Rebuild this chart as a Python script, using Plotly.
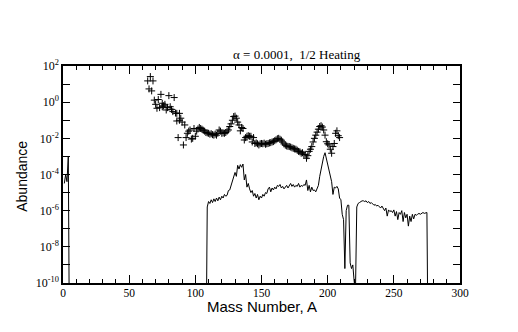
"""Abundance vs mass number, alpha = 0.0001, 1/2 heating."""
import plotly.graph_objects as go

# scattered "+" points (mass number, abundance)
plus_a = [64, 65, 66, 67, 68, 69, 70, 71, 72, 73, 74, 75, 75, 76, 77, 78, 79, 80,
          81, 82, 83, 84, 85, 86, 86, 87, 88, 88, 89, 90, 91, 92, 93, 94, 95, 96,
          97, 98, 99, 100, 101, 102, 103, 104, 105, 106, 107, 108, 109, 110, 111,
          112, 113, 114, 115, 116, 117, 118, 119, 120, 121, 122, 123, 124, 125,
          126, 127, 128, 129, 130, 131, 132, 133, 134, 135, 136, 137, 138, 139,
          140, 141, 142, 143, 144, 145, 146, 147, 148, 149, 150, 151, 152, 153,
          154, 155, 156, 157, 158, 159, 160, 161, 162, 163, 164, 165, 166, 167,
          168, 169, 170, 171, 172, 173, 174, 175, 176, 177, 178, 179, 180, 181,
          182, 183, 184, 185, 186, 187, 188, 189, 190, 191, 192, 193, 194, 195,
          196, 197, 198, 199, 200, 201, 202, 203, 204, 205, 206, 207, 208, 209]
plus_y = [1.5e1, 5.4e0, 2.6e1, 4.2e0, 1.5e1, 1.3e0, 7.6e-1, 4.6e-1, 1.4e0, 5.0e-1,
          2.7e0, 8.7e-1, 5.6e-1, 6.3e-1, 7.6e-1, 3.7e-1, 5.0e-1, 2.3e0, 5.6e-1,
          4.0e-1, 3.0e-1, 1.8e0, 2.5e-1, 2.4e-1, 9.1e-2, 1.1e-2, 2.4e-1, 1.0e-1,
          1.3e-1, 7.9e-2, 4.3e-3, 5.5e-2, 1.1e-2, 1.9e-2, 2.5e-2, 2.9e-2, 9.1e-3,
          1.0e-2, 3.5e-2, 1.3e-2, 2.5e-2, 3.3e-2, 4.0e-2, 3.5e-2, 3.2e-2, 2.8e-2,
          2.5e-2, 2.1e-2, 2.0e-2, 1.9e-2, 1.7e-2, 1.8e-2, 1.6e-2, 1.5e-2, 1.7e-2,
          1.5e-2, 1.9e-2, 2.9e-2, 2.5e-2, 1.9e-2, 2.0e-2, 1.9e-2, 2.1e-2, 2.5e-2,
          2.9e-2, 4.5e-2, 6.3e-2, 1.0e-1, 1.6e-1, 1.7e-1, 1.3e-1, 7.9e-2, 5.5e-2,
          2.6e-2, 4.0e-2, 3.5e-2, 8.1e-3, 1.1e-2, 1.3e-2, 1.4e-2, 1.3e-2, 1.3e-2,
          6.3e-3, 1.1e-2, 5.2e-3, 5.6e-3, 5.0e-3, 4.3e-3, 5.0e-3, 5.2e-3, 5.0e-3,
          5.4e-3, 4.7e-3, 5.0e-3, 5.2e-3, 5.6e-3, 5.8e-3, 6.3e-3, 6.6e-3, 7.4e-3,
          8.3e-3, 9.5e-3, 1.0e-2, 8.9e-3, 7.9e-3, 6.3e-3, 4.9e-3, 4.2e-3, 3.8e-3,
          3.6e-3, 3.5e-3, 3.3e-3, 3.0e-3, 2.8e-3, 2.6e-3, 2.5e-3, 2.2e-3, 1.9e-3,
          1.8e-3, 1.5e-3, 1.6e-3, 1.3e-3, 1.3e-3, 7.9e-4, 1.1e-3, 1.9e-3, 2.5e-3,
          3.5e-3, 6.3e-3, 1.0e-2, 1.5e-2, 2.2e-2, 3.2e-2, 4.5e-2, 5.0e-2, 4.2e-2,
          2.9e-2, 1.5e-2, 6.5e-3, 5.0e-3, 4.3e-3, 2.5e-3, 1.5e-3, 3.5e-3, 5.2e-3,
          1.9e-2, 2.6e-2, 1.4e-2, 1.1e-2]

# line: mass number, abundance (None breaks the line)
line_a = [1, 2, 3, 4, 5, None,
          108, 109, 110, 111, 112, 113, 114, 115, 116, 117, 118, 119, 120, 121,
          122, 123, 124, 125, 126, 127, 128, 129, 130, 131, 132, 133, 134, 135,
          136, 137, 138, 139, 140, 141, 142, 143, 144, 145, 146, 147, 148, 149,
          150, 151, 152, 153, 154, 155, 156, 157, 158, 159, 160, 161, 162, 163,
          164, 165, 166, 167, 168, 169, 170, 171, 172, 173, 174, 175, 176, 177,
          178, 179, 180, 181, 182, 183, 184, 185, 186, 187, 188, 189, 190, 191,
          192, 193, 194, 195, 196, 197, 198, 199, 200, 201, 202, 203, 204, 205,
          206, 207, 208, 209, 210, 211, 212, 213, 214, 215, 216, 217, 218, 219,
          220, 221, 222, 223, 224, 225, 226, 227, 228, 229, 230, 231, 232, 233,
          234, 235, 236, 237, 238, 239, 240, 241, 242, 243, 244, 245, 246, 247,
          248, 249, 250, 251, 252, 253, 254, 255, 256, 257, 258, 259, 260, 261,
          262, 263, 264, 265, 266, 267, 268, 269, 270, 271, 272, 273, 274, 275,
          276]
line_y = [3.2e-5, 1.0e-4, 4.0e-5, 1.0e-3, 1e-15, None,
          1e-15, 1.6e-6, 3.2e-6, 2.5e-6, 4.0e-6, 2.8e-6, 4.5e-6, 3.2e-6, 5.0e-6,
          3.5e-6, 5.6e-6, 4.0e-6, 6.3e-6, 5.0e-6, 7.9e-6, 6.3e-6, 7.1e-6, 1.3e-5,
          1.4e-5, 2.5e-5, 3.2e-5, 6.3e-5, 1.3e-4, 7.9e-5, 3.2e-4, 2.0e-4, 3.5e-4,
          2.5e-4, 3.8e-4, 5.0e-5, 1.0e-4, 2.0e-5, 3.2e-5, 1.6e-5, 1.0e-5, 1.3e-5,
          6.3e-6, 8.9e-6, 5.0e-6, 7.9e-6, 4.0e-6, 6.3e-6, 5.0e-6, 7.9e-6, 6.3e-6,
          1.0e-5, 8.9e-6, 1.6e-5, 2.0e-5, 1.1e-5, 1.8e-5, 1.4e-5, 2.0e-5, 1.6e-5,
          2.5e-5, 2.2e-5, 2.8e-5, 1.8e-5, 2.2e-5, 1.6e-5, 2.0e-5, 2.5e-5, 1.8e-5,
          2.5e-5, 3.2e-5, 2.2e-5, 2.8e-5, 2.0e-5, 2.5e-5, 2.2e-5, 3.2e-5, 2.0e-5,
          2.5e-5, 2.2e-5, 2.8e-5, 2.5e-5, 5.0e-5, 1.3e-5, 2.5e-5, 1.1e-5, 2.0e-5,
          1.3e-5, 1.4e-5, 1.1e-5, 1.6e-5, 2.5e-5, 7.9e-5, 2.0e-4, 5.0e-4, 1.0e-3,
          1.6e-3, 7.9e-4, 3.2e-4, 1.3e-4, 6.3e-5, 4.0e-5, 7.9e-6, 2.0e-5, 1.8e-5,
          2.2e-5, 1.6e-5, 5.0e-6, 4.0e-6, 6.3e-7, 3.2e-7, 6.3e-10, 1.0e-6, 2.0e-6,
          2.0e-6, 1.3e-9, 6.3e-10, 1.0e-9, 1.3e-10, 3.2e-11, 1.6e-6, 2.5e-6,
          2.8e-6, 3.2e-6, 3.5e-6, 3.5e-6, 3.2e-6, 3.5e-6, 2.8e-6, 3.2e-6, 2.5e-6,
          2.8e-6, 2.2e-6, 2.0e-6, 2.2e-6, 1.8e-6, 2.0e-6, 1.6e-6, 1.4e-6, 1.8e-6,
          1.3e-6, 1.0e-6, 1.4e-6, 5.0e-7, 1.1e-6, 8.9e-7, 1.0e-6, 7.9e-7, 1.1e-6,
          5.0e-7, 8.9e-7, 3.2e-7, 7.9e-7, 6.3e-7, 1.0e-6, 2.5e-7, 7.9e-7, 4.0e-7,
          6.3e-7, 1.4e-7, 5.0e-7, 2.5e-7, 6.3e-7, 3.5e-7, 6.3e-7, 5.6e-7, 6.3e-7,
          7.1e-7, 6.3e-7, 7.1e-7, 7.9e-7, 7.1e-7, 7.9e-7, 7.9e-7, 1e-15]

x_ticks = [0, 50, 100, 150, 200, 250, 300]
y_ticks = [1e-10, 1e-8, 1e-6, 1e-4, 1e-2, 1e0, 1e2]
y_labels = ["10<sup>-10</sup>", "10<sup>-8</sup>", "10<sup>-6</sup>", "10<sup>-4</sup>",
            "10<sup>-2</sup>", "10<sup>0</sup>", "10<sup>2</sup>"]

serif = "Liberation Serif"
sans = "Liberation Sans"

fig = go.Figure()
fig.add_trace(go.Scatter(
    x=line_a, y=line_y, mode="lines", connectgaps=False,
    line=dict(color="black", width=1), showlegend=False,
))
fig.add_trace(go.Scatter(
    x=plus_a, y=plus_y, mode="markers", showlegend=False,
    marker=dict(symbol="cross-thin", size=5, color="black",
                line=dict(color="black", width=1)),
))

fig.update_xaxes(
    range=[0, 300], tickvals=x_ticks, ticks="inside", ticklen=8, tickwidth=1,
    minor=dict(dtick=10, ticks="inside", ticklen=4, tickcolor="black"),
    showline=True, linecolor="black", linewidth=1.5, mirror="ticks",
    showgrid=False, zeroline=False, tickcolor="black", ticklabelstandoff=-2,
    tickfont=dict(family=serif, size=11.5, color="black"),
)
fig.update_yaxes(
    type="log", range=[-10, 2], tickvals=y_ticks, ticktext=y_labels,
    ticks="inside", ticklen=7, tickwidth=1, tickcolor="black",
    minor=dict(tickvals=[1e-9, 1e-7, 1e-5, 1e-3, 1e-1, 1e1], ticks="inside",
               ticklen=7, tickcolor="black"),
    showline=True, linecolor="black", linewidth=1.5, mirror="ticks",
    showgrid=False, zeroline=False,
    tickfont=dict(family=serif, size=12, color="black"),
)

fig.add_annotation(
    text="α = 0.0001,  1/2 Heating", xref="paper", yref="paper",
    x=0.59, y=1.055, showarrow=False, xanchor="center", yanchor="middle",
    font=dict(family=serif, size=13, color="black"),
)
fig.add_annotation(
    text="Mass Number, A", xref="paper", yref="paper",
    x=0.5, y=-0.11, showarrow=False, xanchor="center", yanchor="middle",
    font=dict(family=sans, size=15, color="black"),
)
fig.add_annotation(
    text="Abundance", xref="paper", yref="paper", textangle=-90,
    x=-0.103, y=0.49, showarrow=False, xanchor="center", yanchor="middle",
    font=dict(family=sans, size=14, color="black"),
)

fig.update_layout(
    width=518, height=332, margin=dict(l=55, r=66, t=58, b=57),
    paper_bgcolor="white", plot_bgcolor="white",
)
fig.write_html("out.html")
